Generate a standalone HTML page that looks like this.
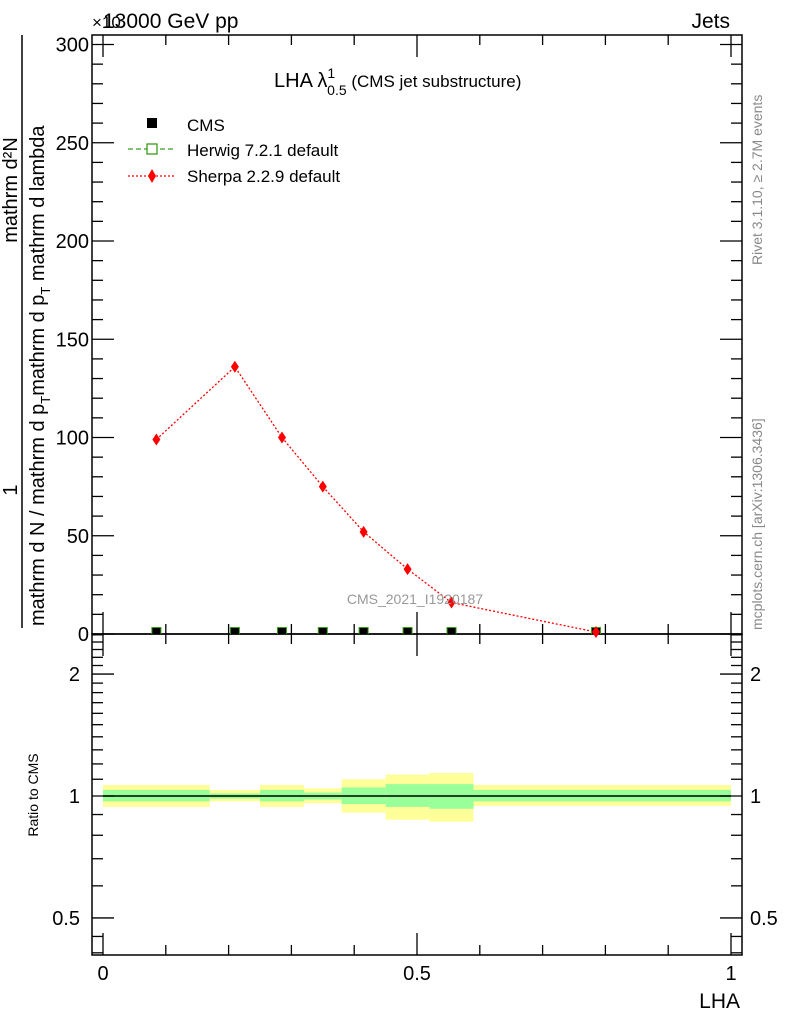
<!DOCTYPE html>
<html><head><meta charset="utf-8"><style>
body{margin:0;background:#fff}
svg{display:block;font-family:"Liberation Sans",sans-serif}
</style></head><body>
<svg id="chart" width="786" height="1024" viewBox="0 0 786 1024" xmlns="http://www.w3.org/2000/svg">
<rect width="786" height="1024" fill="#fff"/>
<g id="bands"></g>
<g id="axes"></g>
<g id="marks"></g>
<text x="103" y="28" font-size="21">13000 GeV pp</text>
<text x="92" y="28" font-size="17">×10</text>
<text x="730" y="28" font-size="21" text-anchor="end">Jets</text>
<text x="274" y="87" font-size="20">LHA λ<tspan font-size="14" dy="-9">1</tspan><tspan font-size="14" dx="-8" dy="17">0.5</tspan><tspan font-size="17" dy="-8"> (CMS jet substructure)</tspan></text>
<text x="415" y="604" font-size="14" fill="#999" text-anchor="middle">CMS_2021_I1920187</text>
<g>
<rect x="147" y="118" width="10" height="10" fill="#000"/>
<text x="187" y="131" font-size="17">CMS</text>
<line x1="128" y1="149" x2="175" y2="149" stroke="#3a9a1a" stroke-dasharray="5,3" stroke-width="1.3"/>
<rect x="147" y="144" width="10" height="10" fill="#fff" stroke="#3a9a1a" stroke-width="1.3"/>
<text x="187" y="156" font-size="17">Herwig 7.2.1 default</text>
<line x1="128" y1="176" x2="175" y2="176" stroke="#f00" stroke-dasharray="2,2" stroke-width="1.3"/>
<path d="M152,169 L156,176 L152,183 L148,176Z" fill="#f00"/>
<text x="187" y="182" font-size="17">Sherpa 2.2.9 default</text>
</g>
<text transform="translate(762,265) rotate(-90)" font-size="14" fill="#888">Rivet 3.1.10, ≥ 2.7M events</text>
<text transform="translate(762,630) rotate(-90)" font-size="14" fill="#888">mcplots.cern.ch [arXiv:1306.3436]</text>
<g>
<line x1="22" y1="35" x2="22" y2="628" stroke="#000" stroke-width="1.5"/>
<text transform="translate(17,490) rotate(-90)" font-size="20" text-anchor="middle">1</text>
<text transform="translate(17,190) rotate(-90)" font-size="20" text-anchor="middle">mathrm d²N</text>
<text transform="translate(44,626) rotate(-90)" font-size="20">mathrm d N / mathrm d p<tspan font-size="13" dy="6">T</tspan><tspan dy="-6">mathrm d p</tspan><tspan font-size="13" dy="6">T</tspan><tspan dy="-6"> mathrm d lambda</tspan></text>
</g>
<text transform="translate(38,795) rotate(-90)" font-size="14" text-anchor="middle">Ratio to CMS</text>
<text x="740" y="1008" font-size="21" text-anchor="end">LHA</text>
</svg>
<script>
var binEdges=[0,0.17,0.25,0.32,0.38,0.45,0.52,0.59,1.0];
var yellowHi=[1.065,1.035,1.065,1.045,1.10,1.13,1.14,1.065];
var yellowLo=[0.94,0.97,0.94,0.96,0.91,0.874,0.864,0.945];
var greenHi=[1.035,1.015,1.035,1.02,1.05,1.07,1.07,1.035];
var greenLo=[0.97,0.985,0.97,0.98,0.955,0.94,0.93,0.97];
var pointX=[0.085,0.21,0.285,0.35,0.415,0.485,0.555,0.785];
var sherpaY=[99,136,100,75,52,33,16,1];
var cmsY=[1,1,1,1,1,1,1,1];
var herwigY=[1,1,1,1,1,1,1,1];
var mainTicks=[0,50,100,150,200,250,300];
var xTicks=[0,0.5,1];
var ratioTicks=[0.5,1,2];
(function(){
var NS='http://www.w3.org/2000/svg';
var L=92,R=742,T=35,M=634,B=955;
function X(v){return 103+v*628;}
function Y(v){return 634-v*1.965;}
function RY(r){return 796-Math.log10(r)*405;}
function mk(tag,attrs,parent){var e=document.createElementNS(NS,tag);for(var k in attrs)e.setAttribute(k,attrs[k]);parent.appendChild(e);return e;}
var bands=document.getElementById('bands'),axes=document.getElementById('axes'),marks=document.getElementById('marks');
for(var i=0;i<binEdges.length-1;i++){
 var x1=X(binEdges[i]),x2=X(binEdges[i+1]);
 var yb=mk('rect',{x:x1,y:RY(yellowHi[i]),width:x2-x1,height:RY(yellowLo[i])-RY(yellowHi[i]),fill:'#ffff99'},bands);
 
 
 var gb=mk('rect',{x:x1,y:RY(greenHi[i]),width:x2-x1,height:RY(greenLo[i])-RY(greenHi[i]),fill:'#99ff99'},bands);
 
 
}
mk('line',{x1:X(0),x2:X(1),y1:RY(1),y2:RY(1),stroke:'#000','stroke-width':1.5},bands);
mk('rect',{x:L,y:T,width:R-L,height:M-T,fill:'none',stroke:'#000','stroke-width':1.5},axes);
mk('rect',{x:L,y:M,width:R-L,height:B-M,fill:'none',stroke:'#000','stroke-width':1.5},axes);
for(var v=0;v<=300;v+=10){var maj=v%50===0,l=maj?22:11;
 mk('line',{x1:L,x2:L+l,y1:Y(v),y2:Y(v),stroke:'#000','stroke-width':1.3},axes);
 mk('line',{x1:R,x2:R-l,y1:Y(v),y2:Y(v),stroke:'#000','stroke-width':1.3},axes);}
mainTicks.forEach(function(v){var t=mk('text',{x:L-3,y:Y(v)+7,'font-size':20,'text-anchor':'end'},axes);t.textContent=v;
 
 });
for(var j=0;j<=10;j++){var xv=j/10,mj=j%5===0,ln=mj?22:10;
 mk('line',{x1:X(xv),x2:X(xv),y1:M,y2:M-ln,stroke:'#000','stroke-width':1.3},axes);
 mk('line',{x1:X(xv),x2:X(xv),y1:M,y2:M+ln,stroke:'#000','stroke-width':1.3},axes);
 mk('line',{x1:X(xv),x2:X(xv),y1:B,y2:B-ln,stroke:'#000','stroke-width':1.3},axes);
 mk('line',{x1:X(xv),x2:X(xv),y1:T,y2:T+ln,stroke:'#000','stroke-width':1.3},axes);}
xTicks.forEach(function(v){var t=mk('text',{x:X(v),y:980,'font-size':20,'text-anchor':'middle'},axes);t.textContent=v;
 
 });
var minor=[0.41,0.45,0.5,0.6,0.7,0.8,0.9,1,1.1,1.2,1.3,1.4,1.5,1.6,1.7,1.8,1.9,2,2.1,2.2,2.3,2.4,2.5];
minor.forEach(function(r){var mj=ratioTicks.indexOf(r)>=0,ln=mj?22:11;
 mk('line',{x1:L,x2:L+ln,y1:RY(r),y2:RY(r),stroke:'#000','stroke-width':1.3},axes);
 mk('line',{x1:R,x2:R-ln,y1:RY(r),y2:RY(r),stroke:'#000','stroke-width':1.3},axes);});
ratioTicks.forEach(function(r){
 var t=mk('text',{x:L-12,y:RY(r)+7,'font-size':20,'text-anchor':'end'},axes);t.textContent=r;
 
 
 var t2=mk('text',{x:R+8,y:RY(r)+7,'font-size':20},axes);t2.textContent=r;
 
 });
mk('polyline',{points:pointX.map(function(x,i){return X(x)+','+Y(sherpaY[i]);}).join(' '),fill:'none',stroke:'#f00','stroke-width':1.3,'stroke-dasharray':'2,2'},marks);
pointX.forEach(function(x,i){
 var h=mk('rect',{x:X(x)-5,y:Y(herwigY[i])-5,width:10,height:7,fill:'#3a9a1a'},marks);
 
 
 var c=mk('rect',{x:X(x)-4,y:Y(cmsY[i])-4,width:8,height:6,fill:'#000'},marks);
 
 
 var cx=X(x),cy=Y(sherpaY[i]);
 var s=mk('path',{d:'M'+cx+','+(cy-6)+'L'+(cx+4)+','+cy+'L'+cx+','+(cy+6)+'L'+(cx-4)+','+cy+'Z',fill:'#f00'},marks);
 
 
});
})();
</script>
</body></html>
